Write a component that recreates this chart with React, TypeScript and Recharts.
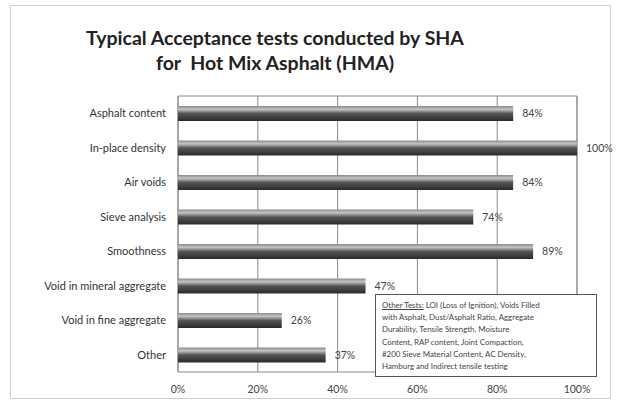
import React from 'react';
import { BarChart, Bar, XAxis, YAxis, CartesianGrid, LabelList, ReferenceArea } from 'recharts';

const categories = [
  'Asphalt content',
  'In-place density',
  'Air voids',
  'Sieve analysis',
  'Smoothness',
  'Void in mineral aggregate',
  'Void in fine aggregate',
  'Other',
];
const values = [84, 100, 84, 74, 89, 47, 26, 37];
const xTicks = [0, 20, 40, 60, 80, 100];
const titleLines = ['Typical Acceptance tests conducted by SHA', 'for  Hot Mix Asphalt (HMA)'];
const noteHeading = 'Other Tests:';
const noteLines = [
  ' LOI (Loss of Ignition), Voids Filled',
  'with Asphalt, Dust/Asphalt Ratio, Aggregate',
  'Durability, Tensile Strength, Moisture',
  'Content, RAP content, Joint Compaction,',
  '#200 Sieve Material Content, AC Density,',
  'Hamburg and Indirect tensile testing',
];

const data = categories.map((c, i) => ({ name: c, value: values[i] }));
const FONT = 'Lato, Open Sans, sans-serif';

export default function App() {
  return (
    <div style={{ position: 'absolute', left: 0, top: 0, width: 621, height: 405, background: '#fff', fontFamily: FONT }}>
      <div style={{ position: 'absolute', left: 10, top: 5, width: 601, height: 394, border: '1px solid #cfcfcf', boxSizing: 'border-box' }} />
      <div style={{ position: 'absolute', left: 75, top: 25, width: 400, textAlign: 'center', fontWeight: 700, fontSize: 19.5, lineHeight: '25px', color: '#222', whiteSpace: 'pre' }}>
        {titleLines[0]}
        <br />
        {titleLines[1]}
      </div>
      <div style={{ position: 'absolute', left: 0, top: 0 }}>
        <BarChart
          width={621}
          height={405}
          layout="vertical"
          data={data}
          margin={{ top: 96, right: 44, bottom: 3, left: 0 }}
          barCategoryGap="10%"
        >
          <defs>
            <linearGradient id="barGrad" x1="0" y1="0" x2="0" y2="1">
              <stop offset="0%" stopColor="#8a8a8a" />
              <stop offset="22%" stopColor="#c4c4c4" />
              <stop offset="50%" stopColor="#555" />
              <stop offset="100%" stopColor="#2a2a2a" />
            </linearGradient>
          </defs>
          <CartesianGrid horizontal={false} stroke="#8a8a8a" strokeWidth={1} />
          <ReferenceArea x1={0} x2={100} fill="none" stroke="#8a8a8a" strokeWidth={1} ifOverflow="visible" />
          <XAxis
            type="number"
            domain={[0, 100]}
            ticks={xTicks}
            tickFormatter={(v: number) => `${v}%`}
            axisLine={false}
            tickLine={false}
            tick={{ fontSize: 10.5, fill: '#444', fontFamily: FONT }}
            tickMargin={8}
            height={30}
            interval={0}
          />
          <YAxis
            type="category"
            dataKey="name"
            width={178}
            axisLine={false}
            tickLine={false}
            tickSize={0}
            tickMargin={12}
            tick={{ fontSize: 11, fill: '#333', fontFamily: FONT }}
            interval={0}
          />
          <Bar dataKey="value" fill="url(#barGrad)" barSize={15} isAnimationActive={false}>
            <LabelList
              dataKey="value"
              position="right"
              offset={9}
              formatter={(v: number) => `${v}%`}
              style={{ fontSize: 10.5, fill: '#444', fontFamily: FONT }}
            />
          </Bar>
        </BarChart>
      </div>
      <div
        style={{
          position: 'absolute',
          left: 375,
          top: 294,
          width: 222,
          height: 83,
          border: '1px solid #555',
          boxSizing: 'border-box',
          padding: '4px 6px',
          fontSize: 7.9,
          lineHeight: '12.2px',
          color: '#444',
          whiteSpace: 'pre',
          background: '#fff',
        }}
      >
        <span style={{ textDecoration: 'underline' }}>{noteHeading}</span>
        {noteLines[0]}
        {noteLines.slice(1).map((l, i) => (
          <div key={i}>{l}</div>
        ))}
      </div>
    </div>
  );
}
